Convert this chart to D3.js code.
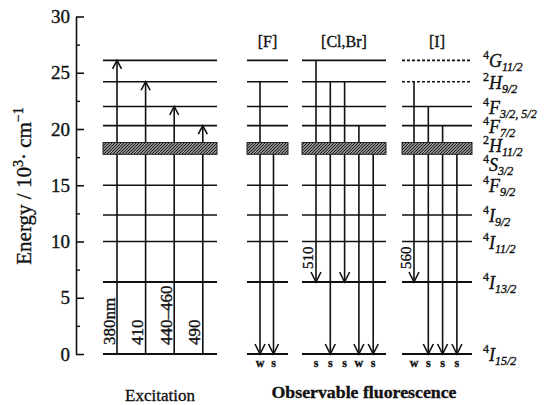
<!DOCTYPE html>
<html>
<head>
<meta charset="utf-8">
<script src="https://cdn.jsdelivr.net/npm/d3@7"></script>
<style>
body { margin: 0; background: #fff; }
text { font-family: "Liberation Serif", "Times New Roman", serif; fill: #111; stroke: #111; stroke-width: 0.35; }
</style>
</head>
<body>
<svg id="chart" width="550" height="405"></svg>
<script>
// Er3+ levels, bottom to top
const stateMult   = ["4", "4", "4", "4", "4", "4", "2", "4", "4", "2", "4"];
const stateLetter = ["I", "I", "I", "I", "F", "S", "H", "F", "F", "H", "G"];
const stateJ      = ["15/2", "13/2", "11/2", "9/2", "9/2", "3/2", "11/2", "7/2", "3/2, 5/2", "9/2", "11/2"];
const stateE      = [0, 6.4, 10.0, 12.35, 15.0, 18.3, 19.1, 20.3, 22.0, 24.2, 26.1];
const bandStates  = [5, 6];            // 2H11/2 + 4S3/2 drawn as one band
const bandRange   = [17.75, 18.8];

const majorTicks = [0, 5, 10, 15, 20, 25, 30];
const minorTicks = [2.5, 7.5, 12.5, 17.5, 22.5, 27.5];

// excitation (absorption) arrows from ground state
const excTop    = [26.1, 24.2, 22.0, 20.3];
const excLabels = ["380nm", "410", "440\u2013460", "490"];

// observable fluorescence per halide
const fluoGroups  = ["[F]", "[Cl,Br]", "[I]"];
const fluoFrom    = [[24.2, 18.3], [26.1, 24.2, 24.2, 20.3, 18.3], [24.2, 22.0, 20.3, 18.3]];
const fluoTo      = [[0, 0], [6.4, 0, 6.4, 0, 0], [6.4, 0, 0, 0]];
const fluoMarks   = [["w", "s"], ["s", "s", "s", "w", "s"], ["w", "s", "s", "s"]];
const fluoWave    = [[], ["510"], ["560"]];
const dashedTop   = [false, false, true]; // upper levels only dashed for [I]

const svg = d3.select("#chart");
const y = d3.scaleLinear().domain([0, 30]).range([354, 16.5]);

// column layout: [x0, x1, first arrow x, arrow step]
const exCol = [103, 217, 117, 28.6];
const fluoCols = [[247, 288, 260, 13.5], [302, 386, 316, 14.3], [402, 472, 414, 14.3]];

const defs = svg.append("defs");
const pat = defs.append("pattern")
    .attr("id", "band")
    .attr("patternUnits", "userSpaceOnUse")
    .attr("width", 3)
    .attr("height", 3);
pat.append("rect").attr("width", 3).attr("height", 3).attr("fill", "#8c8c8c");
pat.append("path").attr("d", "M0,3L3,0M-1,1L1,-1M2,4L4,2").attr("stroke", "#1e1e1e").attr("stroke-width", 1);

// axis
const axis = svg.append("g")
    .attr("transform", "translate(76,0)")
    .call(d3.axisLeft(y).tickValues(majorTicks).tickSizeInner(-8).tickSizeOuter(0).tickPadding(6));
axis.select(".domain").attr("stroke", "#111").attr("stroke-width", 1.6);
axis.selectAll(".tick line").attr("stroke", "#111").attr("stroke-width", 1.6);
axis.selectAll(".tick text")
    .attr("font-family", "Liberation Serif, serif")
    .attr("font-size", 19)
    .attr("fill", "#111");

const minor = svg.append("g")
    .attr("transform", "translate(76,0)")
    .call(d3.axisLeft(y).tickValues(minorTicks).tickSize(-4).tickFormat(""));
minor.select(".domain").remove();
minor.selectAll(".tick line").attr("stroke", "#111").attr("stroke-width", 1.4);

const ylab = svg.append("text")
    .attr("transform", "translate(31,186) rotate(-90)")
    .attr("text-anchor", "middle")
    .attr("font-size", 21);
ylab.append("tspan").text("Energy / 10");
ylab.append("tspan").attr("font-size", 14).attr("dy", -8).text("3");
ylab.append("tspan").attr("dy", 8).text("\u00b7 cm");
ylab.append("tspan").attr("font-size", 14).attr("dy", -8).text("\u22121");

// level lines for one column
function drawLevels(col, dashed) {
    const g = svg.append("g");
    stateE.forEach((e, i) => {
        if (bandStates.includes(i)) return;
        g.append("line")
            .attr("x1", col[0]).attr("x2", col[1])
            .attr("y1", y(e)).attr("y2", y(e))
            .attr("stroke", "#111")
            .attr("stroke-width", e < 7 ? 2 : 1.6)
            .attr("stroke-dasharray", dashed && e > 23 ? "3,2" : null);
    });
    return g;
}

function drawBand(col) {
    svg.append("rect")
        .attr("x", col[0])
        .attr("width", col[1] - col[0])
        .attr("y", y(bandRange[1]))
        .attr("height", y(bandRange[0]) - y(bandRange[1]))
        .attr("fill", "url(#band)")
        .attr("stroke", "#222")
        .attr("stroke-width", 1);
}

function arrow(x, e0, e1) {
    const dir = e1 > e0 ? 1 : -1;
    const tip = y(e1);
    const g = svg.append("g").attr("stroke", "#111").attr("fill", "none").attr("stroke-width", 1.6);
    g.append("line").attr("x1", x).attr("x2", x).attr("y1", y(e0)).attr("y2", tip);
    const w = dir > 0 ? 4.5 : 5, h = dir > 0 ? 8.5 : 10;
    g.append("path").attr("d", `M${x - w},${tip + dir * h}L${x},${tip}L${x + w},${tip + dir * h}`);
}

// excitation column
drawLevels(exCol, false);
excTop.forEach((e, i) => {
    const x = exCol[2] + i * exCol[3];
    arrow(x, 0, e);
    svg.append("text")
        .attr("transform", `translate(${x - 2.5},345) rotate(-90)`)
        .attr("font-size", 17)
        .text(excLabels[i]);
});
drawBand(exCol);

// fluorescence columns
fluoCols.forEach((col, gi) => {
    drawLevels(col, dashedTop[gi]);
    fluoFrom[gi].forEach((e0, i) => {
        const x = col[2] + i * col[3];
        arrow(x, e0, fluoTo[gi][i]);
        svg.append("text")
            .attr("x", x).attr("y", 367)
            .attr("text-anchor", "middle")
            .attr("font-size", 12)
            .attr("font-weight", "bold")
            .text(fluoMarks[gi][i]);
        if (fluoWave[gi][i]) {
            svg.append("text")
                .attr("transform", `translate(${x - 3},${y(fluoTo[gi][i]) - 13}) rotate(-90)`)
                .attr("font-size", 15)
                .text(fluoWave[gi][i]);
        }
    });
    drawBand(col);
    svg.append("text")
        .attr("x", (col[0] + col[1]) / 2)
        .attr("y", 47)
        .attr("text-anchor", "middle")
        .attr("font-size", 16)
        .text(fluoGroups[gi]);
});

// state labels on the right, pushed apart downward
const order = d3.range(stateE.length).sort((a, b) => stateE[b] - stateE[a]);
let prev = -Infinity;
order.forEach(i => {
    let ly = Math.max(y(stateE[i]), prev + 19);
    prev = ly;
    const t = svg.append("text").attr("x", 483).attr("y", ly + 7);
    t.append("tspan").attr("font-size", 12).attr("dy", -8).text(stateMult[i]);
    t.append("tspan").attr("font-size", 18).attr("font-style", "italic").attr("dy", 8).text(stateLetter[i]);
    t.append("tspan").attr("font-size", 12).attr("font-style", "italic").attr("dy", 4).text(stateJ[i]);
});

// captions
svg.append("text")
    .attr("x", 160).attr("y", 401)
    .attr("text-anchor", "middle")
    .attr("font-size", 17)
    .text("Excitation");
svg.append("text")
    .attr("x", 364).attr("y", 398)
    .attr("text-anchor", "middle")
    .attr("font-size", 17)
    .attr("font-weight", "bold")
    .attr("textLength", 185)
    .attr("lengthAdjust", "spacingAndGlyphs")
    .text("Observable fluorescence");
</script>
</body>
</html>
